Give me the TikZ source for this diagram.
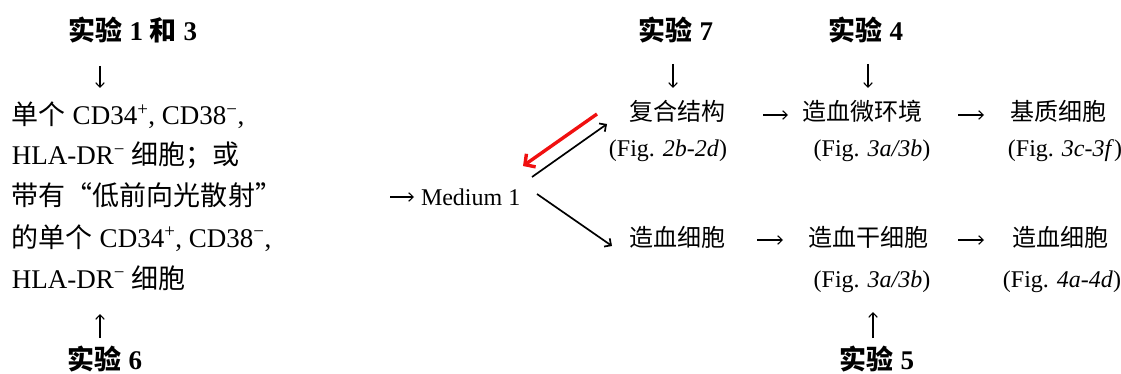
\documentclass[tikz,border=0pt]{standalone}
\usepackage{fontspec}
\setmainfont{Liberation Serif}
\newfontfamily\cjk{Noto Sans CJK SC}
\usetikzlibrary{arrows.meta}
\newcommand\zh[1]{{\cjk #1}}
\definecolor{arrred}{RGB}{240,16,16}
\begin{document}
\begin{tikzpicture}[x=1pt,y=-1pt,
  every node/.style={inner sep=0pt, outer sep=0pt},
  head/.style={font=\fontsize{27}{32}\selectfont\bfseries, anchor=base},
  lefttxt/.style={font=\fontsize{27}{32}\selectfont, anchor=base west},
  rtxt/.style={font=\fontsize{24}{29}\selectfont, anchor=base},
  glyph/.style={line width=1.1pt, -{Straight Barb[length=4.5pt,width=8.5pt]}},
  diag/.style={line width=1.7pt, -{Straight Barb[length=5pt,width=10pt]}},
  redarr/.style={draw=arrred, line width=3.4pt, -{Straight Barb[length=7.5pt,width=16pt]}}]
\useasboundingbox (0,0) rectangle (1121,374);

% headings
\node[head] (h13) at (133,41) {\zh{实验} 1 \zh{和} 3};
\node[head] (h6)  at (105,369) {\zh{实验} 6};
\node[head] (h7)  at (676,41) {\zh{实验} 7};
\node[head] (h4)  at (866,41) {\zh{实验} 4};
\node[head] (h5)  at (877,369) {\zh{实验} 5};

% left block
\node[lefttxt] (l1) at (12,125) {\zh{单个} CD34\textsuperscript{+}, CD38\textsuperscript{−},};
\node[lefttxt] (l2) at (12,165) {HLA-DR\textsuperscript{−} \zh{细胞；或}};
\node[lefttxt] (l3) at (12,206) {\zh{带有“低前向光散射”}};
\node[lefttxt] (l4) at (12,247) {\zh{的单个} CD34\textsuperscript{+}, CD38\textsuperscript{−},};
\node[lefttxt] (l5) at (12,288) {HLA-DR\textsuperscript{−} \zh{细胞}};

% middle
\node[rtxt, anchor=base west] (med) at (421,205) {Medium 1};

% right rows
\node[rtxt] (fuhe) at (677,121) {\zh{复合结构}};
\node[rtxt] (env)  at (862,121) {\zh{造血微环境}};
\node[rtxt] (jz)   at (1058,121) {\zh{基质细胞}};
\node[rtxt] (f1)   at (668,157) {(Fig. \textit{2b-2d})};
\node[rtxt] (f2)   at (872,157) {(Fig. \textit{3a/3b})};
\node[rtxt] (f3)   at (1065,157) {(Fig. \textit{3c-3f})};
\node[rtxt] (hc)   at (677,246) {\zh{造血细胞}};
\node[rtxt] (hsc)  at (868,246) {\zh{造血干细胞}};
\node[rtxt] (hc2)  at (1060,246) {\zh{造血细胞}};
\node[rtxt] (f4)   at (872,287) {(Fig. \textit{3a/3b})};
\node[rtxt] (f5)   at (1062,287) {(Fig. \textit{4a-4d})};

% arrow end coordinates
\coordinate (a1s) at (100,66);  \coordinate (a1e) at (100,88);
\coordinate (a6s) at (100,338); \coordinate (a6e) at (100,314);
\coordinate (a7s) at (673,64);  \coordinate (a7e) at (673,88);
\coordinate (a4s) at (868,64);  \coordinate (a4e) at (868,88);
\coordinate (a5s) at (873,338); \coordinate (a5e) at (873,312);
\coordinate (mi) at (390,197);  \coordinate (mo) at (414,197);
\coordinate (r1a) at (763,115); \coordinate (r1b) at (788,115);
\coordinate (r2a) at (958,115); \coordinate (r2b) at (984,115);
\coordinate (r3a) at (757,240); \coordinate (r3b) at (783,240);
\coordinate (r4a) at (958,240); \coordinate (r4b) at (984,240);
\coordinate (m1) at (532,177);  \coordinate (c1) at (607,124);
\coordinate (m2) at (537,194);  \coordinate (c2) at (612,246);
\coordinate (rs) at (597,114);  \coordinate (re) at (523,166);

\draw[glyph] (a1s) -- (a1e);
\draw[glyph] (a6s) -- (a6e);
\draw[glyph] (a7s) -- (a7e);
\draw[glyph] (a4s) -- (a4e);
\draw[glyph] (a5s) -- (a5e);
\draw[glyph] (mi) -- (mo);
\draw[glyph] (r1a) -- (r1b);
\draw[glyph] (r2a) -- (r2b);
\draw[glyph] (r3a) -- (r3b);
\draw[glyph] (r4a) -- (r4b);
\draw[diag] (m1) -- (c1);
\draw[diag] (m2) -- (c2);
\draw[redarr] (rs) -- (re);
\end{tikzpicture}
\end{document}
